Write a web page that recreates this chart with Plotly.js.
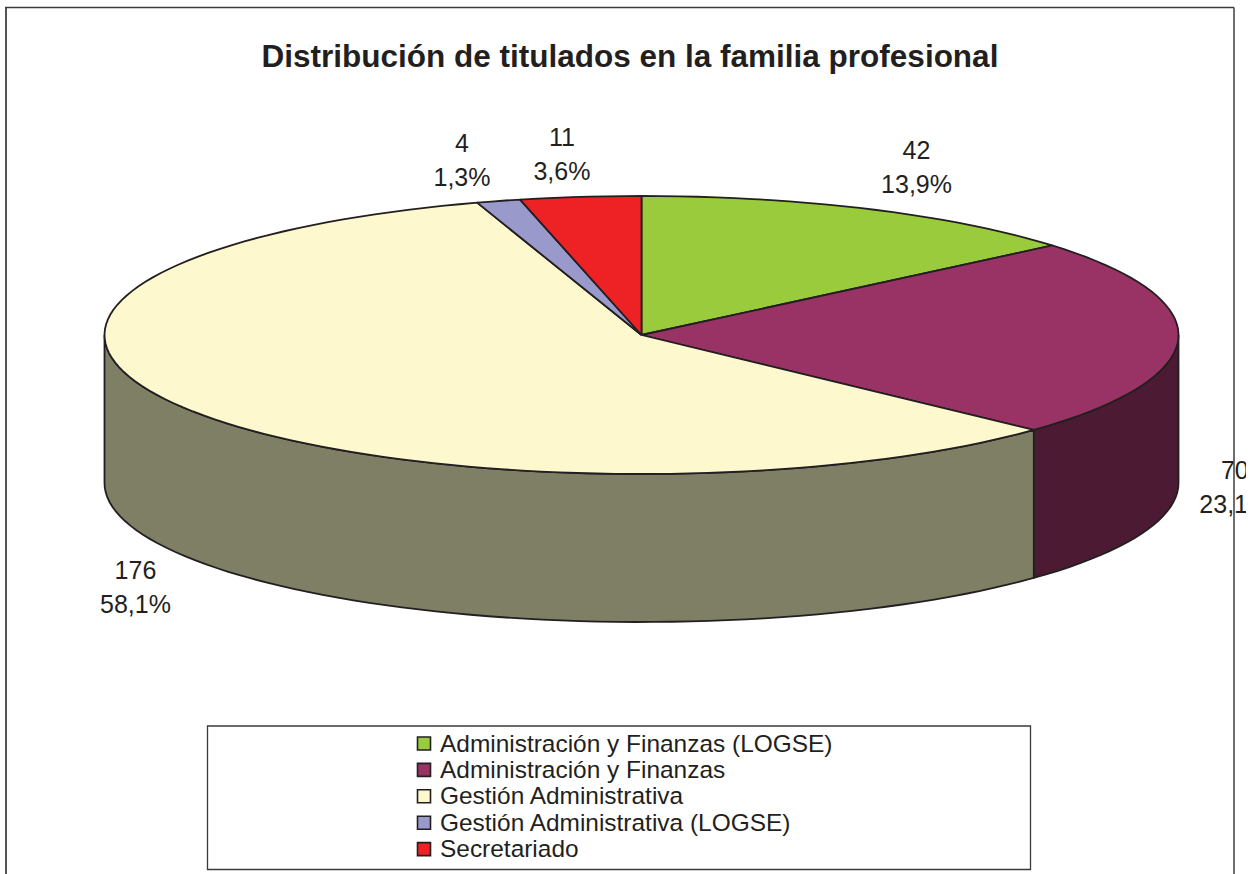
<!DOCTYPE html>
<html>
<head>
<meta charset="utf-8">
<script src="https://cdn.plot.ly/plotly-3.0.1.min.js"></script>
<style>html,body{margin:0;padding:0;background:#fff}#chart{width:1253px;height:874px}</style>
</head>
<body>
<div id="chart"></div>
<script>
// ---- data ----
const categories = ['Administración y Finanzas (LOGSE)', 'Administración y Finanzas', 'Gestión Administrativa', 'Gestión Administrativa (LOGSE)', 'Secretariado'];
const values = [42, 70, 176, 4, 11];
const chartTitle = 'Distribución de titulados en la familia profesional';

// ---- styles ----
const topColors = ['#9acb3c', '#993366', '#fdf8cd', '#9999cc', '#ee2224'];
const wallColors = ['#4d5f1f', '#4c1a33', '#7f7f66', '#4c4c66', '#771112'];
const edge = '#231f20';
const FONT = '"Liberation Sans", Arial, sans-serif';

// ---- 3D pie projection, in page pixels ----
const cx = 641.5, cy = 335, rx = 537, ry = 139, depth = 148;
const labelNudges = [[48.5, -39], [56.5, 151], [-52.5, 180], [-36.5, -38], [-18.5, -40]];
const labelHalfGap = 17;
const keyX = 424, keyTextX = 440, keyTop = 743.5, keyRow = 26.4, keyTextDrop = 2;

const total = values.reduce((a, b) => a + b, 0);
const rim = (deg, drop) => {
  const t = deg * Math.PI / 180;
  return [cx + rx * Math.sin(t), cy - ry * Math.cos(t) + (drop || 0)];
};
const arc = (a0, a1, drop) => {
  const n = Math.max(2, Math.ceil(Math.abs(a1 - a0) / 2));
  const pts = [];
  for (let i = 0; i <= n; i++) pts.push(rim(a0 + (a1 - a0) * i / n, drop));
  return pts;
};

let acc = 0;
const slices = values.map(v => {
  const a0 = acc / total * 360;
  acc += v;
  return [a0, acc / total * 360];
});

const traces = [];
const poly = (pts, fill, name) => traces.push({
  type: 'scatter', mode: 'lines', name, showlegend: false, hoverinfo: 'skip',
  x: pts.map(p => p[0]), y: pts.map(p => p[1]),
  fill: 'toself', fillcolor: fill,
  line: { color: edge, width: 1.8, simplify: false }
});

// side walls: only the part of the rim facing the viewer (90 to 270 degrees)
slices.forEach(([a0, a1], i) => {
  const s = Math.max(a0, 90), e = Math.min(a1, 270);
  if (e <= s) return;
  const pts = arc(s, e, 0).concat(arc(e, s, depth));
  pts.push(pts[0]);
  poly(pts, wallColors[i], categories[i] + ' (lateral)');
});
// top faces
slices.forEach(([a0, a1], i) => {
  const pts = [[cx, cy]].concat(arc(a0, a1, 0));
  pts.push([cx, cy]);
  poly(pts, topColors[i], categories[i]);
});

// value and percentage labels
const labelAt = slices.map(([a0, a1], i) => {
  const p = rim((a0 + a1) / 2, 0);
  return [p[0] + labelNudges[i][0], p[1] + labelNudges[i][1]];
});
const pct = values.map(v => (v / total * 100).toFixed(1).replace('.', ',') + '%');
const textTrace = (text, shift) => ({
  type: 'scatter', mode: 'text', showlegend: false, hoverinfo: 'skip', cliponaxis: true,
  x: labelAt.map(p => p[0]), y: labelAt.map(p => p[1] + shift),
  text, textposition: 'middle center',
  textfont: { family: FONT, size: 25, color: edge }
});
traces.push(textTrace(values.map(String), -labelHalfGap));
traces.push(textTrace(pct, labelHalfGap));

// key: swatches and names inside the framed box
const keyY = categories.map((c, i) => keyTop + i * keyRow);
traces.push({
  type: 'scatter', mode: 'markers', name: 'Leyenda', showlegend: false, hoverinfo: 'skip',
  x: categories.map(() => keyX), y: keyY,
  marker: { symbol: 'square', size: 13, color: topColors, line: { color: edge, width: 1.6 } }
});
traces.push({
  type: 'scatter', mode: 'text', name: 'Leyenda', showlegend: false, hoverinfo: 'skip',
  x: categories.map(() => keyTextX), y: keyY.map(y => y + keyTextDrop),
  text: categories, textposition: 'middle right',
  textfont: { family: FONT, size: 24.45, color: edge }
});

const layout = {
  width: 1253, height: 874, autosize: false,
  margin: { l: 0, r: 7, t: 0, b: 0, pad: 0 },
  paper_bgcolor: '#fff', plot_bgcolor: '#fff',
  font: { family: FONT, color: edge },
  title: { text: '<b>' + chartTitle + '</b>', x: 633.5 / 1253, xanchor: 'center', xref: 'paper',
           y: 1 - 56 / 874, yanchor: 'middle', yref: 'container',
           font: { family: FONT, size: 31.5, color: edge } },
  xaxis: { range: [0, 1246], visible: false, fixedrange: true },
  yaxis: { range: [874, 0], visible: false, fixedrange: true },
  showlegend: false,
  shapes: [
    { type: 'line', xref: 'x', yref: 'y', x0: 6, x1: 6, y0: 7.5, y1: 874, line: { color: '#555555', width: 2 }, layer: 'below' },
    { type: 'line', xref: 'x', yref: 'y', x0: 5, x1: 1234, y0: 7.5, y1: 7.5, line: { color: '#3a3a3a', width: 1.5 }, layer: 'below' },
    { type: 'line', xref: 'x', yref: 'y', x0: 1234, x1: 1234, y0: 7.5, y1: 874, line: { color: '#4a4a4a', width: 1.6 }, layer: 'above' },
    { type: 'rect', xref: 'x', yref: 'y', x0: 207.5, x1: 1030.5, y0: 726, y1: 869.5, fillcolor: '#fff', line: { color: '#3a3a3a', width: 1.3 }, layer: 'below' }
  ]
};
Plotly.newPlot('chart', traces, layout, { displayModeBar: false });
</script>
</body>
</html>
